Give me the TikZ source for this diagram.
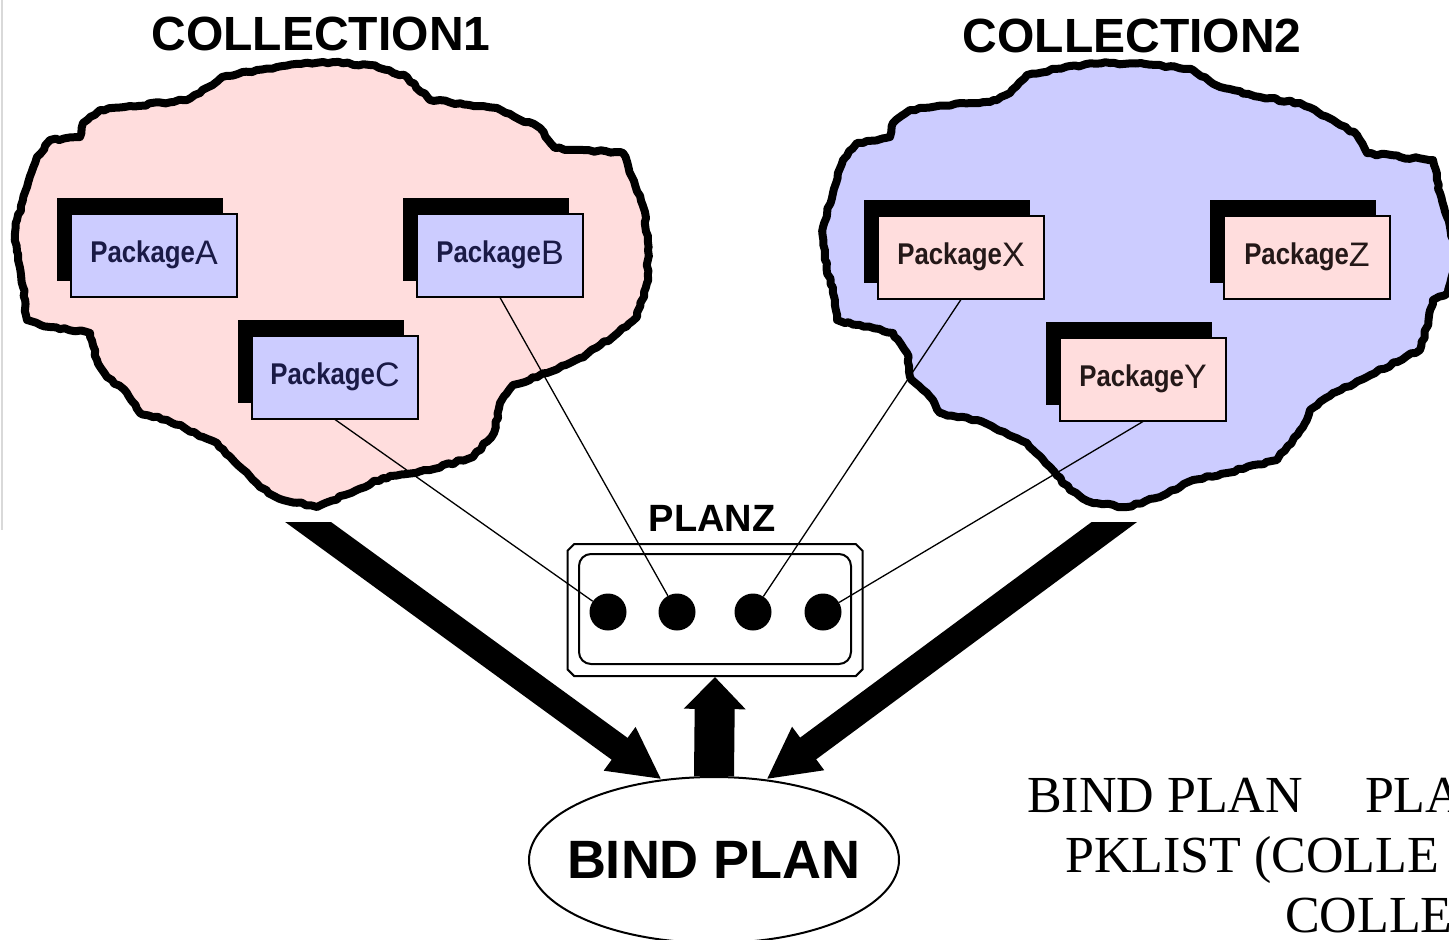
\documentclass[tikz,border=0pt]{standalone}
\usepackage{fontspec}
\setmainfont{Liberation Serif}
\newfontfamily\arialfont{Liberation Sans}
\newfontfamily\narrowfont[FakeStretch=0.86]{Liberation Sans}
\usetikzlibrary{arrows.meta, shapes.geometric, shapes.misc, shadows}
\usetikzlibrary{decorations.pathmorphing}
\definecolor{cloudpink}{RGB}{255,221,221}
\definecolor{cloudblue}{RGB}{204,204,255}
\definecolor{inkblue}{RGB}{26,26,70}
\definecolor{inkbrown}{RGB}{36,24,24}
\newcommand{\pkgname}[1]{Package{\arialfont\mdseries\fontsize{34}{34}\selectfont\raisebox{-2pt}{#1}}}
\tikzset{
  cloud line/.style={line width=8pt, line join=round, decorate,
    decoration={random steps, segment length=5pt, amplitude=1.2pt}},
  pkg box/.style={draw, line width=2pt, minimum width=166pt, minimum height=83pt, inner sep=0pt,
    font=\narrowfont\bfseries\fontsize{30}{30}\selectfont,
    drop shadow={shadow xshift=-14pt, shadow yshift=16pt, fill=black, opacity=1}},
  title/.style={font=\arialfont\bfseries\fontsize{48}{48}\selectfont, anchor=base, inner sep=0pt},
  pin dot/.style={circle, fill=black, minimum size=37pt, inner sep=0pt},
  fat arrow/.style={line width=27pt, -{Triangle[length=52pt, width=50pt]}},
  link/.style={line width=1.3pt},
  cmd text/.style={font=\fontsize{52}{52}\selectfont, anchor=base west, inner sep=0pt}
}
\pgfmathsetseed{7}

\begin{document}
\begin{tikzpicture}[x=1pt, y=-1pt]
            \clip (0,0) rectangle (1449,940);
            \draw[black!15, line width=1.5pt] (2,0) -- (2,530);

            \node[title] (col1) at (321,50) {COLLECTION1};
            \node[title] (col2) at (1132,52) {COLLECTION2};

            \draw[cloud line, fill=cloudpink] (222,77) -- (277,67) -- (323,62) -- (370,65) -- (407,77)
                -- (430,100) -- (497,108) -- (540,128) -- (555,148) -- (623,153) -- (632,177) -- (645,212)
                -- (648,250) -- (647,283) -- (637,317) -- (613,337) -- (580,358) -- (547,373) -- (513,385)
                -- (500,403) -- (494,433) -- (473,457) -- (430,470) -- (383,478) -- (345,495) -- (317,507)
                -- (283,500) -- (260,487) -- (233,460) -- (217,443) -- (167,420) -- (140,413) -- (127,393)
                -- (107,377) -- (97,360) -- (90,333) -- (50,327) -- (27,320) -- (23,287) -- (18,260)
                -- (15,233) -- (17,220) -- (27,187) -- (37,157) -- (50,140) -- (80,137) -- (83,123)
                -- (100,110) -- (187,100) -- (200,93) -- cycle;
            \draw[cloud line, fill=cloudblue] (1027,75) -- (1070,66) -- (1110,63) -- (1160,65) -- (1193,70)
                -- (1220,87) -- (1260,97) -- (1300,103) -- (1333,120) -- (1357,135) -- (1367,153) -- (1400,157)
                -- (1433,160) -- (1440,193) -- (1450,227) -- (1458,260) -- (1448,293) -- (1433,300) -- (1427,327)
                -- (1420,350) -- (1367,377) -- (1333,393) -- (1310,410) -- (1303,427) -- (1277,460) -- (1227,473)
                -- (1193,480) -- (1160,497) -- (1127,507) -- (1093,503) -- (1070,490) -- (1050,467) -- (1027,443)
                -- (977,420) -- (940,413) -- (927,393) -- (910,377) -- (907,353) -- (893,333) -- (837,320)
                -- (833,293) -- (825,260) -- (823,227) -- (833,193) -- (843,160) -- (857,143) -- (890,137)
                -- (893,123) -- (910,110) -- (997,100) -- (1010,93) -- cycle;

            \node[pkg box, fill=cloudblue, text=inkblue] (pkgA) at (154,255) {\pkgname{A}};
            \node[pkg box, fill=cloudblue, text=inkblue] (pkgB) at (500,255) {\pkgname{B}};
            \node[pkg box, fill=cloudblue, text=inkblue] (pkgC) at (335,377) {\pkgname{C}};
            \node[pkg box, fill=cloudpink, text=inkbrown] (pkgX) at (961,257) {\pkgname{X}};
            \node[pkg box, fill=cloudpink, text=inkbrown] (pkgZ) at (1307,257) {\pkgname{Z}};
            \node[pkg box, fill=cloudpink, text=inkbrown] (pkgY) at (1143,379) {\pkgname{Y}};

            \node[draw, chamfered rectangle, chamfered rectangle xsep=9pt, chamfered rectangle ysep=9pt,
                line width=2pt, minimum width=295pt, minimum height=132pt] (planz) at (715,610) {};
            \node[draw, rounded corners=12pt, line width=2pt, minimum width=272pt, minimum height=110pt] (planzin) at (715,609) {};
            \node[font=\arialfont\bfseries\fontsize{38}{38}\selectfont, anchor=base, inner sep=0pt] (planzlbl) at (712,531) {PLANZ};

            \foreach \i/\x in {1/608, 2/677, 3/753, 4/823}
                \node[pin dot] (d\i) at (\x,612) {};

            \draw[link] (pkgC.south) -- (d1);
            \draw[link] (pkgB.south) -- (d2);
            \draw[link] (pkgX.south) -- (d3);
            \draw[link] (pkgY.south) -- (d4);

            \node[draw, ellipse, line width=2pt, minimum width=370pt, minimum height=166pt, inner sep=0pt,
                label={[font=\arialfont\bfseries\fontsize{54}{54}\selectfont, inner sep=0pt]center:BIND PLAN}] (bind) at (714,860) {};

            \coordinate (lstart) at (282,503);
            \coordinate (rstart) at (1140,503);
            \begin{scope}
                \clip (0,522) rectangle (1449,940);
                \draw[fat arrow] (lstart) -- (bind.123);
                \draw[fat arrow] (rstart) -- (bind.57);
            \end{scope}
            \draw[line width=40pt, -{Triangle[length=32pt, width=60pt]}] (bind.north) -- (planz.south);

            \node[cmd text] (cmd1) at (1027,812) {BIND PLAN\hspace{62pt}PLA};
            \node[cmd text] (cmd2) at (1065,872) {PKLIST (COLLE};
            \node[cmd text] (cmd3) at (1285,932) {COLLE};
        \end{tikzpicture}
\end{document}
